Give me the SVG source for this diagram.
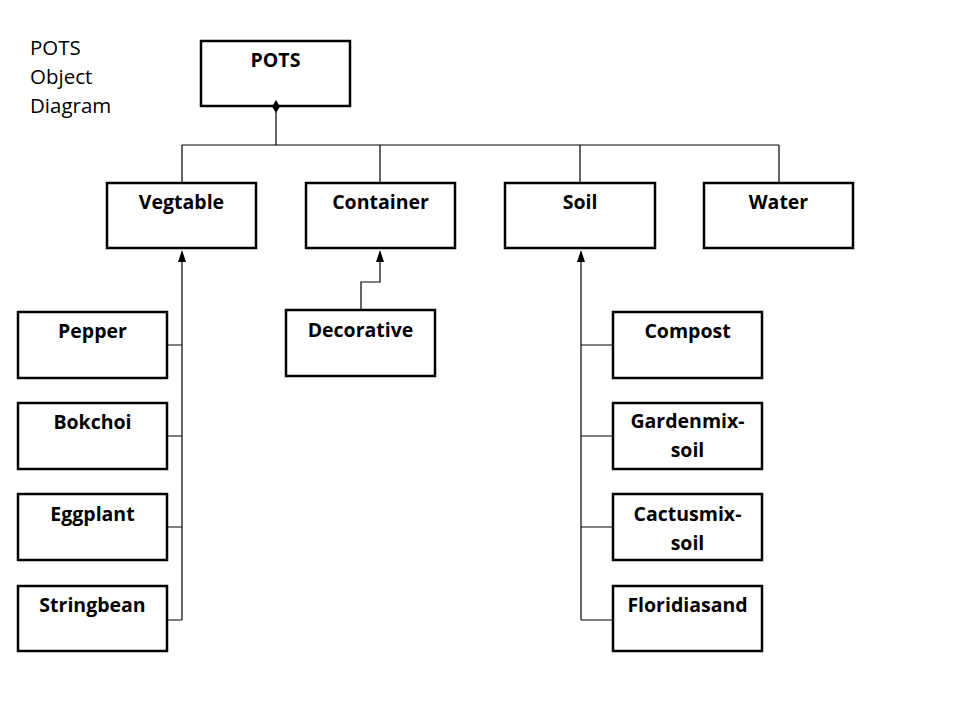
<svg xmlns="http://www.w3.org/2000/svg" width="960" height="720" viewBox="0 0 960 720">
<style>
.box{fill:#fff;stroke:#000;stroke-width:2.5}
.t{font-family:"Open Sans","Liberation Sans",sans-serif;font-weight:bold;font-size:19.5px;text-anchor:middle;fill:#000}
.c{fill:none;stroke:#000;stroke-width:1.2}
.title{font-family:"Open Sans","Liberation Sans",sans-serif;font-size:20.5px;fill:#000}
</style>
<g id="title">
<text class="title" x="30" y="55">POTS</text>
<text class="title" x="30" y="84">Object</text>
<text class="title" x="30" y="113">Diagram</text>
</g>
<g id="pots"><rect class="box" x="201" y="41" width="149" height="65"/><text class="t" x="275.5" y="67">POTS</text></g>
<g id="vegtable"><rect class="box" x="107" y="183" width="149" height="65"/><text class="t" x="181.5" y="209">Vegtable</text></g>
<g id="container"><rect class="box" x="306" y="183" width="149" height="65"/><text class="t" x="380.5" y="209">Container</text></g>
<g id="soil"><rect class="box" x="505" y="183" width="150" height="65"/><text class="t" x="580" y="209">Soil</text></g>
<g id="water"><rect class="box" x="704" y="183" width="149" height="65"/><text class="t" x="778.5" y="209">Water</text></g>
<g id="pepper"><rect class="box" x="18" y="312" width="149" height="66"/><text class="t" x="92.5" y="338">Pepper</text></g>
<g id="bokchoi"><rect class="box" x="18" y="403" width="149" height="66"/><text class="t" x="92.5" y="429">Bokchoi</text></g>
<g id="eggplant"><rect class="box" x="18" y="494" width="149" height="66"/><text class="t" x="92.5" y="521">Eggplant</text></g>
<g id="stringbean"><rect class="box" x="18" y="586" width="149" height="65"/><text class="t" x="92.5" y="612">Stringbean</text></g>
<g id="decorative"><rect class="box" x="286" y="310" width="149" height="66"/><text class="t" x="360.5" y="337">Decorative</text></g>
<g id="compost"><rect class="box" x="613" y="312" width="149" height="66"/><text class="t" x="687.5" y="338">Compost</text></g>
<g id="gardenmix"><rect class="box" x="613" y="403" width="149" height="66"/><text class="t" x="687.5" y="428">Gardenmix-</text><text class="t" x="687.5" y="457">soil</text></g>
<g id="cactusmix"><rect class="box" x="613" y="494" width="149" height="66"/><text class="t" x="687.5" y="521">Cactusmix-</text><text class="t" x="687.5" y="550">soil</text></g>
<g id="floridiasand"><rect class="box" x="613" y="586" width="149" height="65"/><text class="t" x="687.5" y="612">Floridiasand</text></g>
<g id="connectors">
<path class="c" d="M276,112 V145 M182,145 H779 M182,145 V183 M380,145 V183 M580,145 V183 M779,145 V183"/>
<path d="M276,100 L280,106.5 L276,113 L272,106.5 Z" fill="#000"/>
<path class="c" d="M182,620 V252"/>
<path d="M182,250 L178,262 L186,262 Z" fill="#000"/>
<path class="c" d="M167,345 H182 M167,436 H182 M167,527 H182 M167,620 H182"/>
<path class="c" d="M361,310 V282 H380 V252"/>
<path d="M380,250 L376,262 L384,262 Z" fill="#000"/>
<path class="c" d="M581,620 V252"/>
<path d="M581,250 L577,262 L585,262 Z" fill="#000"/>
<path class="c" d="M581,345 H613 M581,436 H613 M581,527 H613 M581,620 H613"/>
</g>
</svg>
